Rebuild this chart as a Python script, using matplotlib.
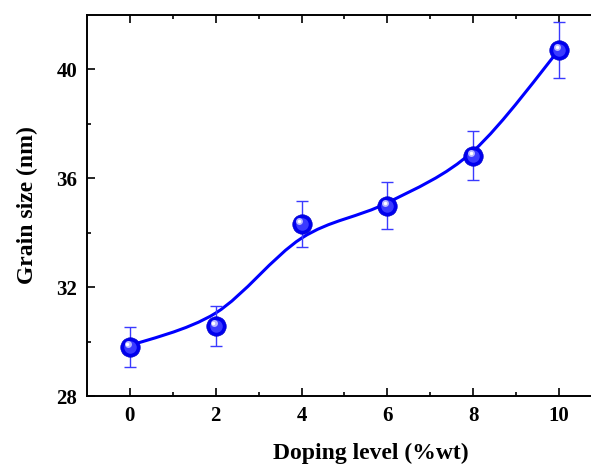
import matplotlib.pyplot as plt
import numpy as np
from matplotlib.path import Path
from matplotlib.patches import PathPatch

# datos
doping = [0, 2, 4, 6, 8, 10]
grain = [29.8, 30.57, 34.32, 34.99, 36.82, 40.72]
error = [0.72, 0.75, 0.86, 0.87, 0.9, 1.03]
# puntos de la curva de ajuste (suavizada)
fit_x = [0, 2, 4, 6, 8, 10]
fit_y = [29.85, 31.05, 33.8, 35.1, 37.0, 40.72]

plt.rcParams['font.family'] = ['Liberation Serif', 'DejaVu Serif']
plt.rcParams['font.weight'] = 'bold'

fig = plt.figure(figsize=(5.91, 4.65), dpi=100)
ax = fig.add_axes([87 / 591, 69 / 465, 515 / 591, 381 / 465])

# curva suave tipo Catmull-Rom dibujada con curvas de Bezier
verts = [(fit_x[0], fit_y[0])]
codes = [Path.MOVETO]
n = len(fit_x)
for i in range(n - 1):
    p0 = np.array((fit_x[max(i - 1, 0)], fit_y[max(i - 1, 0)]))
    p1 = np.array((fit_x[i], fit_y[i]))
    p2 = np.array((fit_x[i + 1], fit_y[i + 1]))
    p3 = np.array((fit_x[min(i + 2, n - 1)], fit_y[min(i + 2, n - 1)]))
    c1 = p1 + (p2 - p0) / 6
    c2 = p2 - (p3 - p1) / 6
    verts += [tuple(c1), tuple(c2), tuple(p2)]
    codes += [Path.CURVE4] * 3
ax.add_patch(PathPatch(Path(verts, codes), fill=False, edgecolor='#0000ff', lw=2.2, zorder=2))

ax.errorbar(doping, grain, yerr=error, fmt='none', ecolor='#3a3aff', elinewidth=1.0,
            capsize=4, capthick=1.0, zorder=3)
# esferas: circulo azul + brillo
ax.plot(doping, grain, 'o', ms=14, color='#0000ee', mec='#0000cc', mew=0.5, zorder=4)
ax.plot(doping, grain, 'o', ms=9, color='#3a3aff', mew=0, zorder=5)
ax.plot(np.array(doping) - 0.05, np.array(grain) + 0.1, 'o', ms=5, color='#b8b8ff', mew=0, zorder=6)
ax.plot(np.array(doping) - 0.06, np.array(grain) + 0.12, 'o', ms=2.5, color='white', mew=0, zorder=7)

ax.set_xlim(-1, 11)
ax.set_ylim(28, 42)
ax.set_xticks([0, 2, 4, 6, 8, 10])
ax.set_xticks([1, 3, 5, 7, 9], minor=True)
ax.set_yticks([28, 32, 36, 40])
ax.set_yticks([30, 34, 38], minor=True)
ax.tick_params(which='both', direction='in', top=True, right=True, labelsize=15, width=1.2)
ax.tick_params(which='major', length=6, pad=7)
ax.tick_params(which='minor', length=3)
for s in ax.spines.values():
    s.set_linewidth(1.4)

ax.set_xlabel('Doping level (%wt)', fontsize=17, fontweight='bold')
ax.set_ylabel('Grain size (nm)', fontsize=17, fontweight='bold')
ax.xaxis.set_label_coords(0.551, -0.122)
ax.yaxis.set_label_coords(-0.096, 0.5)

plt.savefig('out.png', dpi=100)
